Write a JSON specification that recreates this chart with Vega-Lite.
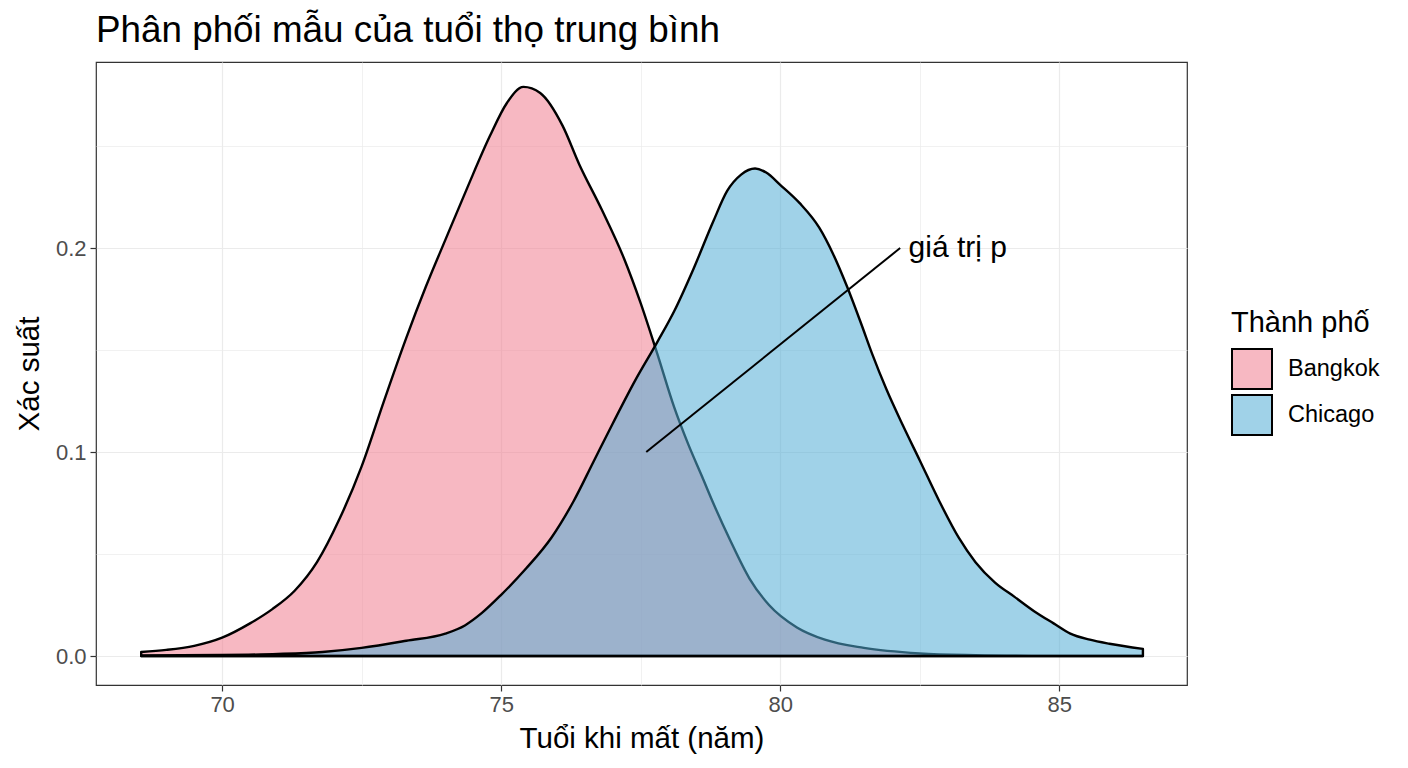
{
  "$schema": "https://vega.github.io/schema/vega-lite/v6.json",
  "width": 1091,
  "height": 623,
  "autosize": {"type": "none"},
  "padding": {"left": 96, "top": 62, "right": 221, "bottom": 83},
  "background": "white",
  "title": {
    "text": "Phân phối mẫu của tuổi thọ trung bình",
    "anchor": "start",
    "frame": "group",
    "font": "Liberation Sans",
    "fontSize": 36.8,
    "fontWeight": "normal",
    "color": "black",
    "offset": 12
  },
  "config": {
    "font": "Liberation Sans",
    "view": {"stroke": "#333333", "strokeWidth": 1.2},
    "axis": {
      "domain": false,
      "tickColor": "#333333",
      "tickSize": 6,
      "tickWidth": 1.2,
      "labelColor": "#4D4D4D",
      "labelFont": "Liberation Sans",
      "labelFontSize": 22,
      "titleFont": "Liberation Sans",
      "titleFontSize": 29.5,
      "titleFontWeight": "normal",
      "titleColor": "black",
      "gridColor": "#EBEBEB"
    },
    "legend": {
      "orient": "none",
      "legendX": 1135,
      "legendY": 247,
      "titleFont": "Liberation Sans",
      "titleFontSize": 29,
      "titleFontWeight": "normal",
      "titleColor": "black",
      "titlePadding": 10,
      "labelFont": "Liberation Sans",
      "labelFontSize": 23.5,
      "labelColor": "black",
      "labelOffset": 15,
      "symbolType": "square",
      "symbolSize": 1600,
      "symbolStrokeColor": "black",
      "symbolStrokeWidth": 2,
      "rowPadding": -2
    }
  },
  "layer": [
    {
      "data": {
        "values": [
          {"city": "Bangkok", "age": 68.55, "density": 0.002},
          {"city": "Bangkok", "age": 69.0, "density": 0.003},
          {"city": "Bangkok", "age": 69.5, "density": 0.005},
          {"city": "Bangkok", "age": 70.0, "density": 0.009},
          {"city": "Bangkok", "age": 70.5, "density": 0.016},
          {"city": "Bangkok", "age": 70.9, "density": 0.023},
          {"city": "Bangkok", "age": 71.3, "density": 0.032},
          {"city": "Bangkok", "age": 71.7, "density": 0.046},
          {"city": "Bangkok", "age": 72.1, "density": 0.067},
          {"city": "Bangkok", "age": 72.5, "density": 0.093},
          {"city": "Bangkok", "age": 72.9, "density": 0.125},
          {"city": "Bangkok", "age": 73.3, "density": 0.156},
          {"city": "Bangkok", "age": 73.65, "density": 0.181},
          {"city": "Bangkok", "age": 74.0, "density": 0.204},
          {"city": "Bangkok", "age": 74.4, "density": 0.23},
          {"city": "Bangkok", "age": 74.8, "density": 0.255},
          {"city": "Bangkok", "age": 75.1, "density": 0.271},
          {"city": "Bangkok", "age": 75.4, "density": 0.279},
          {"city": "Bangkok", "age": 75.7, "density": 0.276},
          {"city": "Bangkok", "age": 76.1, "density": 0.26},
          {"city": "Bangkok", "age": 76.4, "density": 0.241},
          {"city": "Bangkok", "age": 76.8, "density": 0.219},
          {"city": "Bangkok", "age": 77.2, "density": 0.195},
          {"city": "Bangkok", "age": 77.5, "density": 0.173},
          {"city": "Bangkok", "age": 77.8, "density": 0.148},
          {"city": "Bangkok", "age": 78.1, "density": 0.122},
          {"city": "Bangkok", "age": 78.35, "density": 0.104},
          {"city": "Bangkok", "age": 78.6, "density": 0.088},
          {"city": "Bangkok", "age": 78.8, "density": 0.075},
          {"city": "Bangkok", "age": 79.1, "density": 0.057},
          {"city": "Bangkok", "age": 79.45, "density": 0.038},
          {"city": "Bangkok", "age": 79.8, "density": 0.025},
          {"city": "Bangkok", "age": 80.3, "density": 0.014},
          {"city": "Bangkok", "age": 80.8, "density": 0.008},
          {"city": "Bangkok", "age": 81.5, "density": 0.004},
          {"city": "Bangkok", "age": 82.5, "density": 0.0013},
          {"city": "Bangkok", "age": 83.5, "density": 0.0004},
          {"city": "Bangkok", "age": 84.5, "density": 0.0001},
          {"city": "Bangkok", "age": 86.5, "density": 0.0},
          {"city": "Chicago", "age": 68.55, "density": 0.0003},
          {"city": "Chicago", "age": 70.0, "density": 0.0005},
          {"city": "Chicago", "age": 71.0, "density": 0.001},
          {"city": "Chicago", "age": 71.8, "density": 0.002},
          {"city": "Chicago", "age": 72.5, "density": 0.004},
          {"city": "Chicago", "age": 73.3, "density": 0.0075},
          {"city": "Chicago", "age": 74.0, "density": 0.011},
          {"city": "Chicago", "age": 74.35, "density": 0.015},
          {"city": "Chicago", "age": 74.65, "density": 0.021},
          {"city": "Chicago", "age": 75.0, "density": 0.03},
          {"city": "Chicago", "age": 75.45, "density": 0.043},
          {"city": "Chicago", "age": 75.9, "density": 0.058},
          {"city": "Chicago", "age": 76.3, "density": 0.076},
          {"city": "Chicago", "age": 76.65, "density": 0.095},
          {"city": "Chicago", "age": 77.0, "density": 0.114},
          {"city": "Chicago", "age": 77.4, "density": 0.135},
          {"city": "Chicago", "age": 77.8, "density": 0.154},
          {"city": "Chicago", "age": 78.1, "density": 0.169},
          {"city": "Chicago", "age": 78.45, "density": 0.19},
          {"city": "Chicago", "age": 78.8, "density": 0.213},
          {"city": "Chicago", "age": 79.05, "density": 0.228},
          {"city": "Chicago", "age": 79.3, "density": 0.236},
          {"city": "Chicago", "age": 79.55, "density": 0.239},
          {"city": "Chicago", "age": 79.75, "density": 0.237},
          {"city": "Chicago", "age": 80.0, "density": 0.231},
          {"city": "Chicago", "age": 80.35, "density": 0.222},
          {"city": "Chicago", "age": 80.7, "density": 0.21},
          {"city": "Chicago", "age": 80.95, "density": 0.197},
          {"city": "Chicago", "age": 81.2, "density": 0.181},
          {"city": "Chicago", "age": 81.45, "density": 0.163},
          {"city": "Chicago", "age": 81.65, "density": 0.148},
          {"city": "Chicago", "age": 81.9, "density": 0.131},
          {"city": "Chicago", "age": 82.2, "density": 0.113},
          {"city": "Chicago", "age": 82.5, "density": 0.096},
          {"city": "Chicago", "age": 82.85, "density": 0.076},
          {"city": "Chicago", "age": 83.2, "density": 0.058},
          {"city": "Chicago", "age": 83.5, "density": 0.046},
          {"city": "Chicago", "age": 83.85, "density": 0.036},
          {"city": "Chicago", "age": 84.2, "density": 0.029},
          {"city": "Chicago", "age": 84.55, "density": 0.022},
          {"city": "Chicago", "age": 84.9, "density": 0.016},
          {"city": "Chicago", "age": 85.2, "density": 0.011},
          {"city": "Chicago", "age": 85.55, "density": 0.008},
          {"city": "Chicago", "age": 85.9, "density": 0.006},
          {"city": "Chicago", "age": 86.5, "density": 0.0035}
        ]
      },
      "mark": {"type": "area", "interpolate": "monotone", "stroke": "black", "strokeWidth": 2.4, "strokeJoin": "round"},
      "encoding": {
        "x": {
          "field": "age",
          "type": "quantitative",
          "title": "Tuổi khi mất (năm)",
          "scale": {"domain": [67.74, 87.29], "nice": false, "zero": false},
          "axis": {
            "values": [70, 72.5, 75, 77.5, 80, 82.5, 85],
            "labelExpr": "datum.value % 5 === 0 ? format(datum.value, 'd') : ''",
            "tickOpacity": {"condition": {"test": "datum.value % 5 !== 0", "value": 0}, "value": 1},
            "gridWidth": {"condition": {"test": "datum.value % 5 !== 0", "value": 0.7}, "value": 1.2},
            "labelPadding": 3,
            "titlePadding": 9
          }
        },
        "y": {
          "field": "density",
          "type": "quantitative",
          "stack": null,
          "title": "Xác suất",
          "scale": {"domain": [-0.0142, 0.2912], "nice": false, "zero": false},
          "axis": {
            "values": [0, 0.05, 0.1, 0.15, 0.2, 0.25],
            "labelExpr": "abs(datum.value * 10 - round(datum.value * 10)) < 0.001 ? format(datum.value, '.1f') : ''",
            "tickOpacity": {"condition": {"test": "abs(datum.value * 10 - round(datum.value * 10)) > 0.001", "value": 0}, "value": 1},
            "gridWidth": {"condition": {"test": "abs(datum.value * 10 - round(datum.value * 10)) > 0.001", "value": 0.7}, "value": 1.2},
            "labelPadding": 4,
            "titlePadding": 11
          }
        },
        "fill": {
          "field": "city",
          "type": "nominal",
          "title": "Thành phố",
          "scale": {"domain": ["Bangkok", "Chicago"], "range": ["rgba(240,126,144,0.55)", "rgba(82,173,213,0.55)"]}
        }
      }
    },
    {
      "data": {"values": [{"x1": 77.6, "y1": 0.1, "x2": 82.15, "y2": 0.2}]},
      "mark": {"type": "rule", "color": "black", "strokeWidth": 2},
      "encoding": {
        "x": {"field": "x1", "type": "quantitative"},
        "y": {"field": "y1", "type": "quantitative"},
        "x2": {"field": "x2"},
        "y2": {"field": "y2"}
      }
    },
    {
      "data": {"values": [{"label": "giá trị p", "x": 82.3, "y": 0.2}]},
      "mark": {"type": "text", "align": "left", "baseline": "middle", "font": "Liberation Sans", "fontSize": 30, "color": "black"},
      "encoding": {
        "x": {"field": "x", "type": "quantitative"},
        "y": {"field": "y", "type": "quantitative"},
        "text": {"field": "label"}
      }
    }
  ]
}
